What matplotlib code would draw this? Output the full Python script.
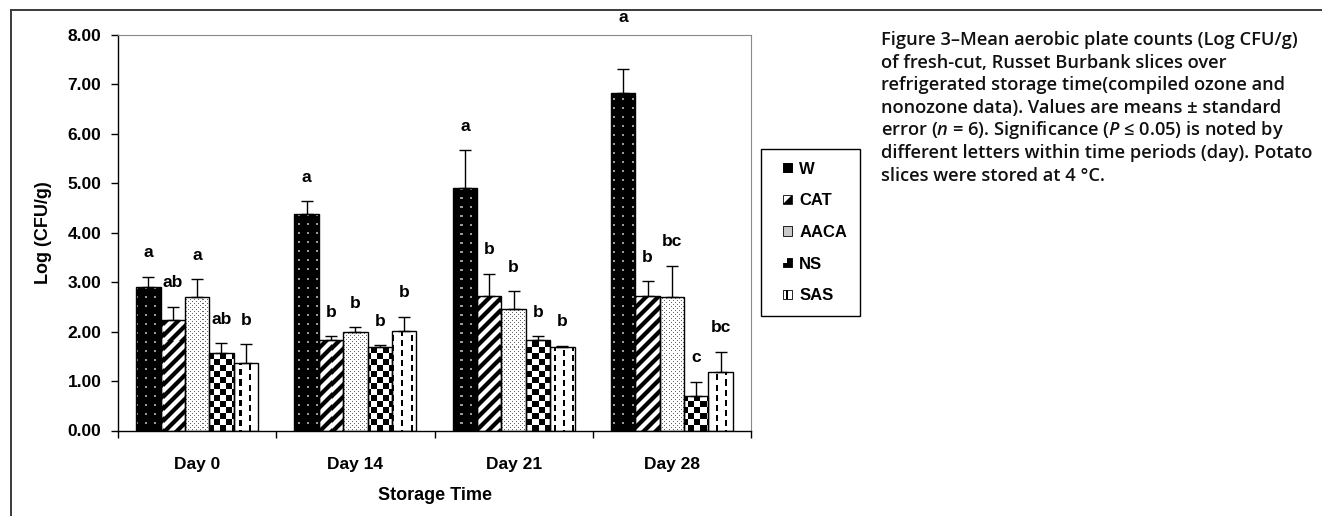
import numpy as np
import matplotlib

matplotlib.use("Agg")

import matplotlib.pyplot as plt
from matplotlib.lines import Line2D
from matplotlib.patches import Rectangle, Polygon
from matplotlib.legend_handler import HandlerBase


DAYS = ["Day 0", "Day 14", "Day 21", "Day 28"]
TREATMENTS = ["W", "CAT", "AACA", "NS", "SAS"]

W_MEAN = [2.90, 4.37, 4.91, 6.82]
W_ERR = [0.21, 0.26, 0.75, 0.48]
CAT_MEAN = [2.23, 1.83, 2.72, 2.72]
CAT_ERR = [0.27, 0.07, 0.45, 0.30]
AACA_MEAN = [2.70, 1.99, 2.45, 2.69]
AACA_ERR = [0.36, 0.10, 0.37, 0.64]
NS_MEAN = [1.57, 1.69, 1.83, 0.70]
NS_ERR = [0.19, 0.03, 0.08, 0.29]
SAS_MEAN = [1.36, 2.02, 1.69, 1.18]
SAS_ERR = [0.38, 0.28, 0.02, 0.41]

W_LETTERS = ["a", "a", "a", "a"]
CAT_LETTERS = ["ab", "b", "b", "b"]
AACA_LETTERS = ["a", "b", "b", "bc"]
NS_LETTERS = ["ab", "b", "b", "c"]
SAS_LETTERS = ["b", "b", "b", "bc"]

Y_TICKS = [0, 1, 2, 3, 4, 5, 6, 7, 8]

CAPTION = [
    "Figure 3\u2013Mean aerobic plate counts (Log CFU/g)",
    "of fresh-cut, Russet Burbank slices over",
    "refrigerated storage time(compiled ozone and",
    "nonozone data). Values are means \u00b1 standard",
    "error ($n$ = 6). Significance ($P$ \u2264 0.05) is noted by",
    "different letters within time periods (day). Potato",
    "slices were stored at 4 \u00b0C.",
]

FIG_W, FIG_H = 1322, 516
ARIAL = "Liberation Sans"
CAP_FONT = ["Open Sans", "DejaVu Sans"]


def texture(kind, h, w):
    r, c = np.indices((h, w))
    if kind == "W":
        img = np.zeros((h, w))
        img[((r % 9) < 2) & ((c % 9) < 2)] = 0.6
    elif kind == "CAT":
        img = np.clip(0.5 + 1.1 * np.sin(2 * np.pi * (r + c) / 12.0), 0, 1)
    elif kind == "AACA":
        img = np.ones((h, w))
        img[((r % 4) == 0) & ((c % 4) == 0)] = 0.4
        img[((r % 4) == 2) & ((c % 4) == 2)] = 0.4
    elif kind == "NS":
        img = ((r // 6 + c // 6) % 2).astype(float)
    else:
        img = np.ones((h, w))
        shift = 5 * ((c // 9) % 2)
        img[((c % 9) >= 4) & ((c % 9) < 6) & (((r + shift) % 10) < 6)] = 0.0
    return img


class IconHandler(HandlerBase):
    def create_artists(self, legend, orig_handle, xdescent, ydescent, width, height, fontsize, trans):
        kind = orig_handle.get_label()
        s = 0.55 * fontsize
        x0 = width - s - xdescent
        y0 = (height - s) / 2 - ydescent
        arts = [Rectangle((x0, y0), s, s, facecolor="white", edgecolor="black", lw=0.6, transform=trans)]
        if kind == "W":
            arts.append(Rectangle((x0, y0), s, s, facecolor="black", edgecolor="black", lw=0.6, transform=trans))
        elif kind == "CAT":
            arts.append(Polygon([(x0, y0), (x0 + s, y0), (x0 + s, y0 + s)], closed=True,
                                facecolor="black", edgecolor="none", transform=trans))
        elif kind == "AACA":
            arts[0].set_facecolor("#c8c8c8")
        elif kind == "NS":
            arts[0].set_facecolor("black")
            arts.append(Rectangle((x0, y0 + s / 2), s / 2, s / 2, facecolor="white", edgecolor="none", transform=trans))
        else:
            arts.append(Rectangle((x0 + 0.4 * s, y0), 0.2 * s, s, facecolor="black", edgecolor="none", transform=trans))
        return arts


def main():
    plt.rcParams["font.family"] = ARIAL
    plt.rcParams["font.weight"] = "bold"
    plt.rcParams["mathtext.fontset"] = "custom"
    plt.rcParams["mathtext.it"] = "Open Sans:italic:semibold"
    plt.rcParams["mathtext.rm"] = "Open Sans:semibold"

    fig = plt.figure(figsize=(FIG_W / 100, FIG_H / 100), dpi=100)
    left, right = 118 / FIG_W, 751 / FIG_W
    bottom, top = 1 - 430.5 / FIG_H, 1 - 34.7 / FIG_H
    ax = fig.add_axes([left, bottom, right - left, top - bottom])

    means = [W_MEAN, CAT_MEAN, AACA_MEAN, NS_MEAN, SAS_MEAN]
    errs = [W_ERR, CAT_ERR, AACA_ERR, NS_ERR, SAS_ERR]
    letters = [W_LETTERS, CAT_LETTERS, AACA_LETTERS, NS_LETTERS, SAS_LETTERS]
    # extra lift (points) for the W day-28 letter, which sits above the plot frame
    lift = {("W", 3): 34}

    xlim = (-0.5, len(DAYS) - 0.5)
    ylim = (0, 8)
    h_px = int(round((top - bottom) * FIG_H))
    w_px = int(round((right - left) * FIG_W))

    x = np.arange(len(DAYS))
    width = 0.154
    for i, name in enumerate(TREATMENTS):
        pos = x + (i - 2) * width
        bars = ax.bar(pos, means[i], width, color="white", edgecolor="none", zorder=2)
        tex = texture(name, h_px, w_px)
        for patch in bars:
            im = ax.imshow(tex, extent=(*xlim, *ylim), origin="upper", cmap="gray", vmin=0, vmax=1,
                           interpolation="nearest", aspect="auto", zorder=2.1)
            im.set_clip_path(patch)
        ax.bar(pos, means[i], width, fill=False, edgecolor="black", lw=1.0, zorder=3)
        tops = np.array(means[i]) + np.array(errs[i])
        ax.errorbar(pos, means[i], yerr=[np.zeros(len(DAYS)), errs[i]], fmt="none", ecolor="black",
                    elinewidth=1.0, capsize=4, capthick=1.0, zorder=4)
        for j, (xp, yp, lab) in enumerate(zip(pos, tops, letters[i])):
            ax.annotate(lab, (xp, yp), xytext=(0, lift.get((name, j), 14)), textcoords="offset points",
                        ha="center", va="baseline", fontsize=12.5, fontweight="bold", family=ARIAL,
                        zorder=5, annotation_clip=False)

    ax.set_xlim(*xlim)
    ax.set_ylim(*ylim)
    ax.set_aspect("auto")

    ax.set_yticks(Y_TICKS)
    ax.set_yticklabels([f"{v:.2f}" for v in Y_TICKS])
    ax.tick_params(axis="y", direction="out", length=5, width=1, pad=7, labelsize=12.5)
    ax.set_xticks(np.arange(len(DAYS) + 1) - 0.5)
    ax.set_xticklabels([])
    ax.set_xticks(x, minor=True)
    ax.set_xticklabels(DAYS, minor=True)
    ax.tick_params(axis="x", which="major", direction="out", length=5, width=1)
    ax.tick_params(axis="x", which="minor", length=0, pad=19, labelsize=12.5)

    for side in ("top", "right"):
        ax.spines[side].set_color("#8a8a8a")
        ax.spines[side].set_linewidth(0.8)
    for side in ("left", "bottom"):
        ax.spines[side].set_color("black")
        ax.spines[side].set_linewidth(1.0)

    ax.set_ylabel("Log (CFU/g)", fontsize=13, fontweight="bold")
    ax.yaxis.set_label_coords((43 - 118) / w_px, 0.5)
    ax.set_xlabel("Storage Time", fontsize=13, fontweight="bold")
    ax.xaxis.set_label_coords(0.5, -(496 - 430.5) / h_px)
    ax.xaxis.label.set_va("center")
    ax.yaxis.label.set_va("center")

    handles = [Rectangle((0, 0), 1, 1, label=name) for name in TREATMENTS]
    fig.legend(handles, TREATMENTS, loc="upper left", bbox_to_anchor=(761 / FIG_W, 1 - 149 / FIG_H),
               borderaxespad=0, frameon=True, fancybox=False, edgecolor="black", framealpha=1,
               prop={"family": ARIAL, "weight": "bold", "size": 12},
               handler_map={Rectangle: IconHandler()}, handlelength=1.1, handleheight=0.7,
               handletextpad=0.45, labelspacing=1.0, borderpad=0.75)
    fig.legends[0].get_frame().set_linewidth(1.0)

    # caption: sized so its longest line ends where the original's does
    probes = [fig.text(0, 0, line, family=CAP_FONT, fontsize=12, fontweight="semibold") for line in CAPTION]
    fig.canvas.draw()
    wid = max(p.get_window_extent().width for p in probes)
    for p in probes:
        p.remove()
    cap_size = 12 * 432 / wid
    for k, line in enumerate(CAPTION):
        fig.text(881 / FIG_W, 1 - (45 + 22.6 * k) / FIG_H, line, family=CAP_FONT, fontsize=cap_size,
                 fontweight="semibold", va="baseline", ha="left", color="#111111")

    frame_col = "#3a3a3a"
    fig.add_artist(Line2D([11 / FIG_W, 1], [1 - 10 / FIG_H] * 2, transform=fig.transFigure, color=frame_col, lw=1.4))
    fig.add_artist(Line2D([11 / FIG_W] * 2, [1 - 10 / FIG_H, 0], transform=fig.transFigure, color=frame_col, lw=1.4))

    fig.savefig("out.png", dpi=100)
    plt.close(fig)


if __name__ == "__main__":
    main()
